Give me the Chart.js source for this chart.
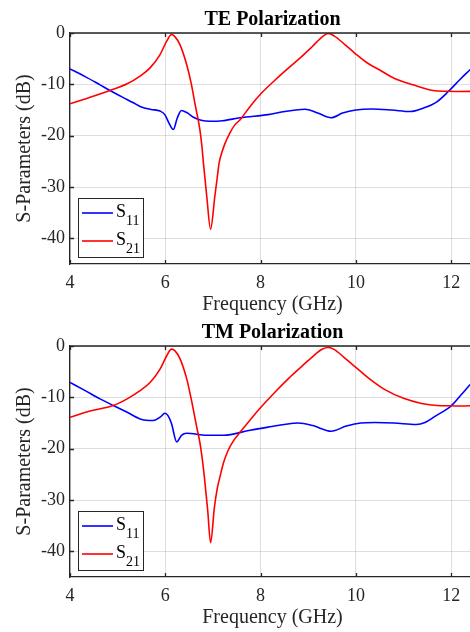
<!DOCTYPE html>
<html>
<head>
<meta charset="utf-8">
<script src="https://cdn.jsdelivr.net/npm/chart.js@4.4.1/dist/chart.umd.min.js"></script>
<style>
html, body { margin: 0; padding: 0; background: #fff; overflow: hidden; width: 470px; height: 632px; }
.box { position: absolute; left: 0; width: 480px; height: 316px; }
</style>
</head>
<body>
<div class="box" style="top:0"><canvas id="te" width="480" height="316"></canvas></div>
<div class="box" style="top:313px"><canvas id="tm" width="480" height="316"></canvas></div>
<script>
// values (GHz / dB)
var xTicks = [4, 6, 8, 10, 12];
var yTicks = [0, -10, -20, -30, -40];

var teS11Freq = [4.0, 4.3, 4.63, 4.84, 5.1, 5.33, 5.47, 5.7, 5.89, 5.99, 6.08, 6.17, 6.25, 6.34, 6.45, 6.59, 6.75, 6.94, 7.2, 7.57, 8.16, 8.51, 8.93, 9.2, 9.48, 9.72, 10.0, 10.33, 10.75, 11.14, 11.41, 11.7, 11.94, 12.18, 12.39, 12.5];
var teS11 = [-7.0, -8.4, -10.1, -11.2, -12.5, -13.6, -14.3, -14.9, -15.2, -15.9, -17.6, -18.8, -16.6, -15.1, -15.5, -16.4, -17.0, -17.2, -17.1, -16.5, -15.9, -15.3, -14.85, -15.6, -16.5, -15.6, -15.0, -14.8, -15.0, -15.3, -14.65, -13.4, -11.4, -9.1, -7.2, -6.2];

var teS21Freq = [4.0, 4.4, 4.84, 5.2, 5.47, 5.68, 5.89, 6.03, 6.13, 6.2, 6.31, 6.45, 6.55, 6.64, 6.69, 6.73, 6.77, 6.8, 6.87, 6.95, 7.04, 7.09, 7.13, 7.19, 7.25, 7.36, 7.46, 7.57, 7.78, 8.02, 8.3, 8.6, 8.86, 9.1, 9.3, 9.42, 9.55, 9.75, 9.98, 10.25, 10.5, 10.8, 11.2, 11.62, 11.93, 12.2, 12.5];
var teS21 = [-13.8, -12.6, -11.2, -9.9, -8.4, -6.8, -4.2, -1.6, -0.3, -0.7, -2.3, -6.2, -10.1, -14.6, -16.9, -19.1, -22.2, -25.3, -31.8, -38.2, -31.8, -28.2, -25.3, -23.2, -21.6, -19.4, -17.9, -16.9, -14.3, -11.7, -9.2, -6.7, -4.6, -2.5, -0.7, -0.1, -0.6, -2.1, -3.95, -5.9, -7.2, -8.8, -10.1, -11.2, -11.35, -11.4, -11.35];

var tmS11Freq = [4.0, 4.3, 4.63, 4.91, 5.2, 5.47, 5.75, 5.9, 5.99, 6.06, 6.13, 6.24, 6.34, 6.45, 6.87, 7.22, 7.78, 8.16, 8.5, 8.79, 9.1, 9.48, 9.8, 10.1, 10.4, 10.8, 11.27, 11.45, 11.66, 12.0, 12.2, 12.39, 12.5];
var tmS11 = [-7.1, -8.6, -10.3, -11.6, -12.9, -14.2, -14.5, -13.8, -13.1, -13.6, -15.1, -18.7, -17.4, -17.0, -17.4, -17.4, -16.4, -15.8, -15.3, -15.0, -15.5, -16.6, -15.6, -15.0, -14.9, -15.0, -15.3, -14.9, -13.7, -11.65, -9.6, -7.6, -6.5];

var tmS21Freq = [4.0, 4.4, 4.91, 5.2, 5.47, 5.68, 5.89, 6.03, 6.13, 6.2, 6.31, 6.45, 6.55, 6.66, 6.73, 6.78, 6.82, 6.89, 6.95, 7.03, 7.09, 7.15, 7.22, 7.32, 7.45, 7.57, 7.78, 8.02, 8.3, 8.6, 8.86, 9.1, 9.3, 9.42, 9.55, 9.75, 9.98, 10.3, 10.61, 11.0, 11.38, 11.7, 12.0, 12.2, 12.5];
var tmS21 = [-13.9, -12.7, -11.6, -10.3, -8.7, -7.1, -4.5, -1.9, -0.6, -0.9, -2.5, -6.4, -10.6, -15.8, -19.0, -22.3, -25.5, -32.0, -38.3, -31.5, -27.8, -25.4, -22.8, -20.3, -18.2, -16.8, -14.4, -11.8, -9.0, -6.2, -4.0, -2.0, -0.6, -0.3, -0.7, -2.2, -4.0, -6.5, -8.5, -10.2, -11.2, -11.6, -11.65, -11.7, -11.6];

var axisColor = '#262626';
var serif = '"Liberation Serif", "Times New Roman", serif';

function toPoints(xs, ys) {
    return xs.map(function (x, i) { return {x: x, y: ys[i]}; });
}

// title over the axes, box top edge, inward ticks and the legend with subscripts
var matlabLook = {
    id: 'matlabLook',
    afterDraw: function (chart, args, opts) {
        var ctx = chart.ctx;
        var a = chart.chartArea;
        var xs = chart.scales.x, ys = chart.scales.y;
        ctx.save();
        ctx.strokeStyle = axisColor;
        ctx.lineWidth = 1.3;
        ctx.beginPath();
        ctx.moveTo(a.left, a.top);
        ctx.lineTo(a.right + 5, a.top);
        xTicks.forEach(function (v) {
            var px = Math.round(xs.getPixelForValue(v)) + 0.5;
            ctx.moveTo(px, a.top); ctx.lineTo(px, a.top + 4);
            ctx.moveTo(px, a.bottom); ctx.lineTo(px, a.bottom - 4);
        });
        yTicks.forEach(function (v) {
            var py = Math.round(ys.getPixelForValue(v)) + 0.5;
            ctx.moveTo(a.left, py); ctx.lineTo(a.left + 4, py);
        });
        ctx.stroke();

        ctx.fillStyle = '#000';
        ctx.font = 'bold 20px ' + serif;
        ctx.textAlign = 'center';
        ctx.textBaseline = 'alphabetic';
        ctx.fillText(opts.title, (a.left + a.right) / 2, 25);

        // legend
        var bx = a.left + 8, by = a.bottom - 66;
        ctx.fillStyle = '#fff';
        ctx.fillRect(bx, by, 65, 59);
        ctx.lineWidth = 1;
        ctx.strokeStyle = axisColor;
        ctx.strokeRect(bx + 0.5, by + 0.5, 65, 59);
        var rows = [by + 15, by + 43];
        chart.data.datasets.forEach(function (ds, i) {
            var ry = rows[ds.legendRow];
            ctx.strokeStyle = ds.borderColor;
            ctx.lineWidth = 1.6;
            ctx.beginPath();
            ctx.moveTo(bx + 4, ry); ctx.lineTo(bx + 35, ry);
            ctx.stroke();
            ctx.fillStyle = '#000';
            ctx.textAlign = 'left';
            ctx.font = '18px ' + serif;
            ctx.fillText('S', bx + 38, ry + 3.5);
            ctx.font = '14px ' + serif;
            ctx.fillText(ds.sub, bx + 48, ry + 12);
        });
        ctx.restore();
    }
};

function makeChart(id, title, s11F, s11, s21F, s21) {
    var ctx = document.getElementById(id).getContext('2d');
    return new Chart(ctx, {
        type: 'line',
        data: {
            datasets: [{
                label: 'S11', sub: '11', legendRow: 0, order: 2,
                data: toPoints(s11F, s11),
                borderColor: '#0000ff', borderWidth: 1.6,
                pointRadius: 0, cubicInterpolationMode: 'monotone', fill: false
            }, {
                label: 'S21', sub: '21', legendRow: 1, order: 1,
                data: toPoints(s21F, s21),
                borderColor: '#ff0000', borderWidth: 1.6,
                pointRadius: 0, cubicInterpolationMode: 'monotone', fill: false
            }]
        },
        options: {
            responsive: false,
            animation: false,
            devicePixelRatio: 1,
            layout: { padding: { top: 33, right: 5, left: 0, bottom: 0 } },
            plugins: {
                legend: { display: false },
                tooltip: { enabled: false },
                title: { display: false },
                matlabLook: { title: title }
            },
            scales: {
                x: {
                    type: 'linear', min: 4, max: 12.5,
                    afterFit: function (s) { s.height = 52; },
                    ticks: {
                        stepSize: 2, includeBounds: false, padding: 8,
                        color: axisColor, font: { family: serif, size: 18 }
                    },
                    grid: { color: 'rgba(0,0,0,0.13)', drawTicks: false },
                    border: { display: true, color: axisColor, width: 1.3 },
                    title: {
                        display: true, text: 'Frequency (GHz)', color: axisColor,
                        font: { family: serif, size: 20, lineHeight: 1 },
                        padding: { top: 0, bottom: 1.75 }
                    }
                },
                y: {
                    min: -45, max: 0,
                    afterFit: function (s) { s.width = 70; },
                    ticks: {
                        stepSize: 10, includeBounds: false, padding: 5,
                        color: axisColor, font: { family: serif, size: 18 }
                    },
                    grid: { color: 'rgba(0,0,0,0.13)', drawTicks: false },
                    border: { display: true, color: axisColor, width: 1.3 },
                    title: {
                        display: true, text: 'S-Parameters (dB)', color: axisColor,
                        font: { family: serif, size: 20, lineHeight: 1 },
                        padding: { top: 15, bottom: 0 }
                    }
                }
            }
        },
        plugins: [matlabLook]
    });
}

makeChart('te', 'TE Polarization', teS11Freq, teS11, teS21Freq, teS21);
makeChart('tm', 'TM Polarization', tmS11Freq, tmS11, tmS21Freq, tmS21);
</script>
</body>
</html>
